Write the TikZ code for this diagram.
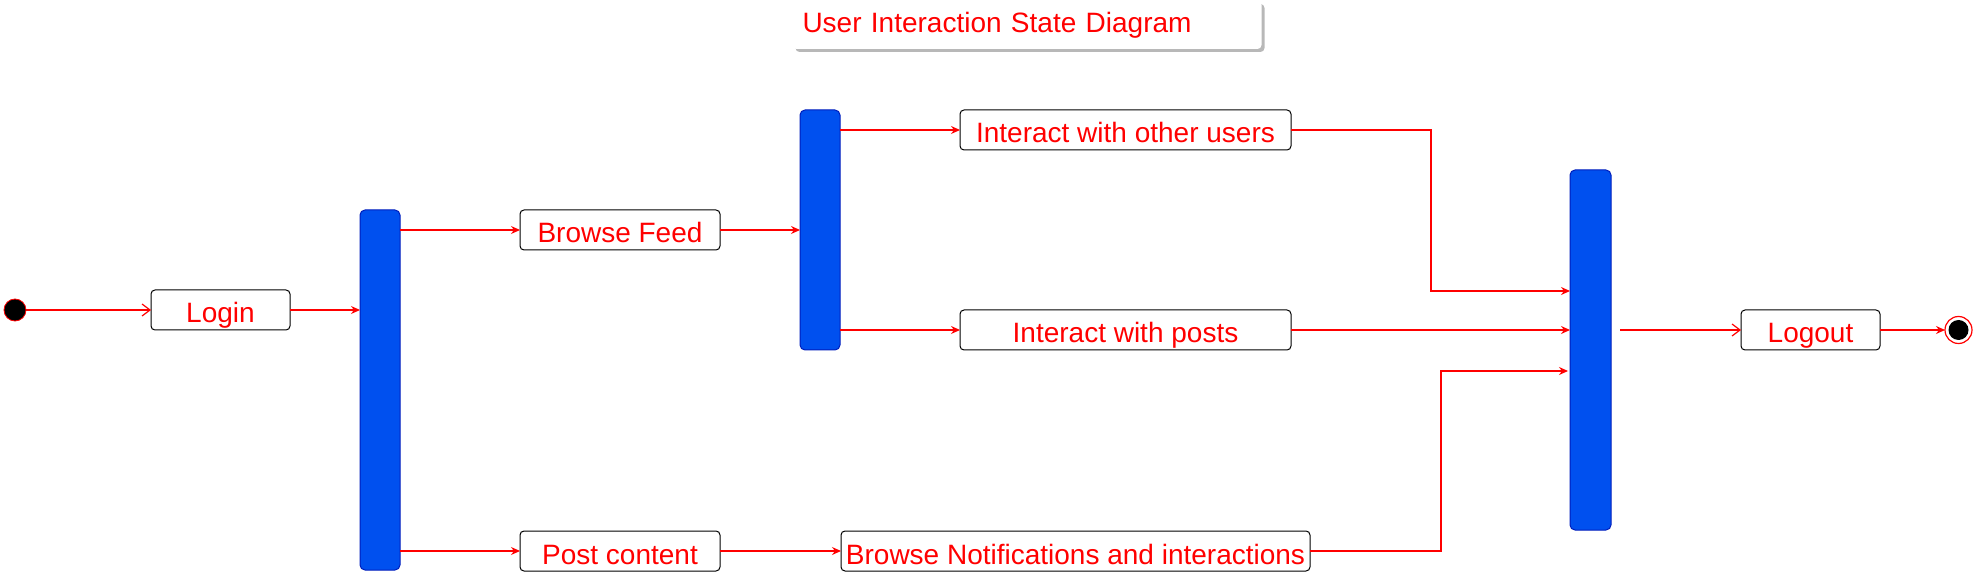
\documentclass[tikz,border=0pt]{standalone}
\usepackage{fontspec}
\usepackage{tikz}
\usetikzlibrary{arrows.meta,positioning,shadows}
\newfontfamily\diagfont{Liberation Sans}
\newcommand{\statefont}{\diagfont\fontsize{14}{16}\selectfont}
\definecolor{barblue}{HTML}{0050EF}
\definecolor{bardark}{HTML}{001DBC}
\tikzset{
    state/.style = {draw, rounded corners=2pt, line width=0.5pt, text=red, outer sep=0pt,
                 font=\statefont, minimum height=20pt, inner sep=2pt, align=center,
                 text height=14pt, text depth=1pt},
    bar/.style = {draw=bardark, fill=barblue, rounded corners=2.5pt, outer sep=0pt,
                 line width=0.5pt, minimum width=20pt, inner sep=0pt},
    startdot/.style = {circle, draw=red, fill=black, minimum size=11pt, inner sep=0pt, outer sep=0pt},
    enddot/.style = {circle, draw=red, fill=white, line width=0.6pt, minimum size=13.5pt,
                 inner sep=0pt, outer sep=0pt},
    flow/.style = {draw=red, line width=0.6pt, -{Stealth[length=4.5pt,width=4pt]}},
    openflow/.style = {draw=red, line width=0.6pt, -{Straight Barb[length=4pt,width=6pt]}},
}

\begin{document}
\begin{tikzpicture}[x=0.5pt,y=-0.5pt]
\useasboundingbox (0,0) rectangle (1977,572);
\node (title) [fill=white, rounded corners=2pt, text=red, font=\statefont,
    minimum width=234.5pt, minimum height=24pt, text width=224.5pt, align=left,
    drop shadow={shadow xshift=1.5pt, shadow yshift=-1.5pt, fill=gray!70, opacity=0.8}]
    at (1027,25) {User Interaction State Diagram};
\node (init) [startdot] at (15,310) {};
\node (login) [state,minimum width=69.5pt,right=62.5pt of init] {Login};
\node (fork1) [bar,minimum height=180pt,right=35pt of login,yshift=-40pt] {};
\node (feed) [state,minimum width=100pt,right=60pt of fork1,yshift=80pt] {Browse Feed};
\node (post) [state,minimum width=100pt,right=60pt of fork1,yshift=-80.5pt] {Post content};
\node (fork2) [bar,minimum height=120pt,right=40pt of feed] {};
\node (users) [state,minimum width=165.5pt,right=60pt of fork2,yshift=50pt] {Interact with other users};
\node (posts) [state,minimum width=165.5pt,right=60pt of fork2,yshift=-50pt] {Interact with posts};
\node (notif) [state,minimum width=234.5pt,right=60.5pt of post] {Browse Notifications and interactions};
\node (join) [bar,minimum width=20.5pt,minimum height=180pt,right=139.5pt of posts,yshift=-10pt] {};
\node (logout) [state,minimum width=69.5pt,right=65pt of join,yshift=10pt] {Logout};
\node (final) [enddot,right=32.5pt of logout] {};
\fill (final.center) circle (5pt);
% transitions
\draw[openflow] (init) -- (login);
\draw[flow] (login.east) -- (login.east -| fork1.west);
\draw[flow] (feed.west -| fork1.east) -- (feed.west);
\draw[flow] (post.west -| fork1.east) -- (post.west);
\draw[flow] (feed.east) -- (feed.east -| fork2.west);
\draw[flow] (users.west -| fork2.east) -- (users.west);
\draw[flow] (posts.west -| fork2.east) -- (posts.west);
\draw[flow] (post.east) -- (notif.west);
\draw[flow] (users.east) -- ++(70pt,0) |- ([yshift=29.5pt]join.west);
\draw[flow] (posts.east) -- (posts.east -| join.west);
\draw[flow,shorten >=1pt] (notif.east) -- ++(65.5pt,0) |- ([yshift=-10.5pt]join.west);
\draw[openflow,shorten <=4.5pt] (logout.west -| join.east) -- (logout.west);
\draw[flow] (logout) -- (final);
\end{tikzpicture}
\end{document}
